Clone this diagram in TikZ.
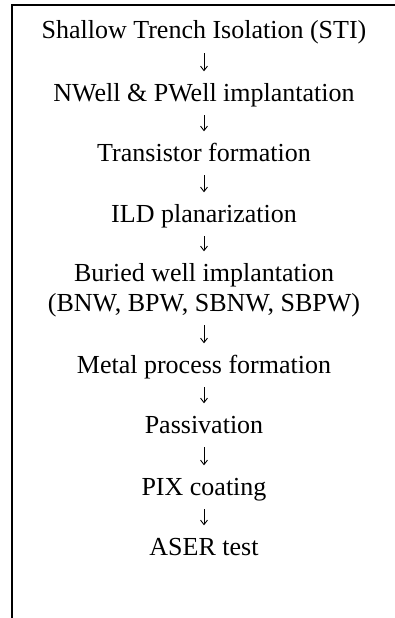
\documentclass[tikz,border=0pt]{standalone}
\usepackage{fontspec}
\setmainfont{Liberation Serif}
\usetikzlibrary{arrows.meta}
\tikzset{
  stepbox/.style={inner sep=0pt, text height=17.5pt, text depth=0pt, anchor=base,
    font=\fontsize{26}{30}\selectfont},
  flow/.style={-{Straight Barb[length=4.5pt,width=7pt]}, line width=0.9pt,
    shorten <=14pt, shorten >=12pt},
  frame/.style={line width=1.6pt}
}
\begin{document}
\begin{tikzpicture}[x=1pt,y=-1pt]
\useasboundingbox (0,0) rectangle (395,618);
\draw[frame] (12,618) -- (12,5) -- (395,5);
\node[stepbox] (sti) at (204,39) {Shallow Trench Isolation (STI)};
\node[stepbox] (well) at (204,101) {NWell \& PWell implantation};
\node[stepbox] (tr) at (204,161) {Transistor formation};
\node[stepbox] (ild) at (204,222) {ILD planarization};
\node[stepbox] (bur) at (204,281) {Buried well implantation};
\node[stepbox] (bnw) at (204,311) {(BNW, BPW, SBNW, SBPW)};
\node[stepbox] (met) at (204,373) {Metal process formation};
\node[stepbox] (pas) at (204,433) {Passivation};
\node[stepbox] (pix) at (204,495) {PIX coating};
\node[stepbox] (aser) at (204,555) {ASER test};
\draw[flow] (sti.south) -- (well.north);
\draw[flow] (well.south) -- (tr.north);
\draw[flow] (tr.south) -- (ild.north);
\draw[flow] (ild.south) -- (bur.north);
\draw[flow] (bnw.south) -- (met.north);
\draw[flow] (met.south) -- (pas.north);
\draw[flow] (pas.south) -- (pix.north);
\draw[flow] (pix.south) -- (aser.north);
\end{tikzpicture}
\end{document}
